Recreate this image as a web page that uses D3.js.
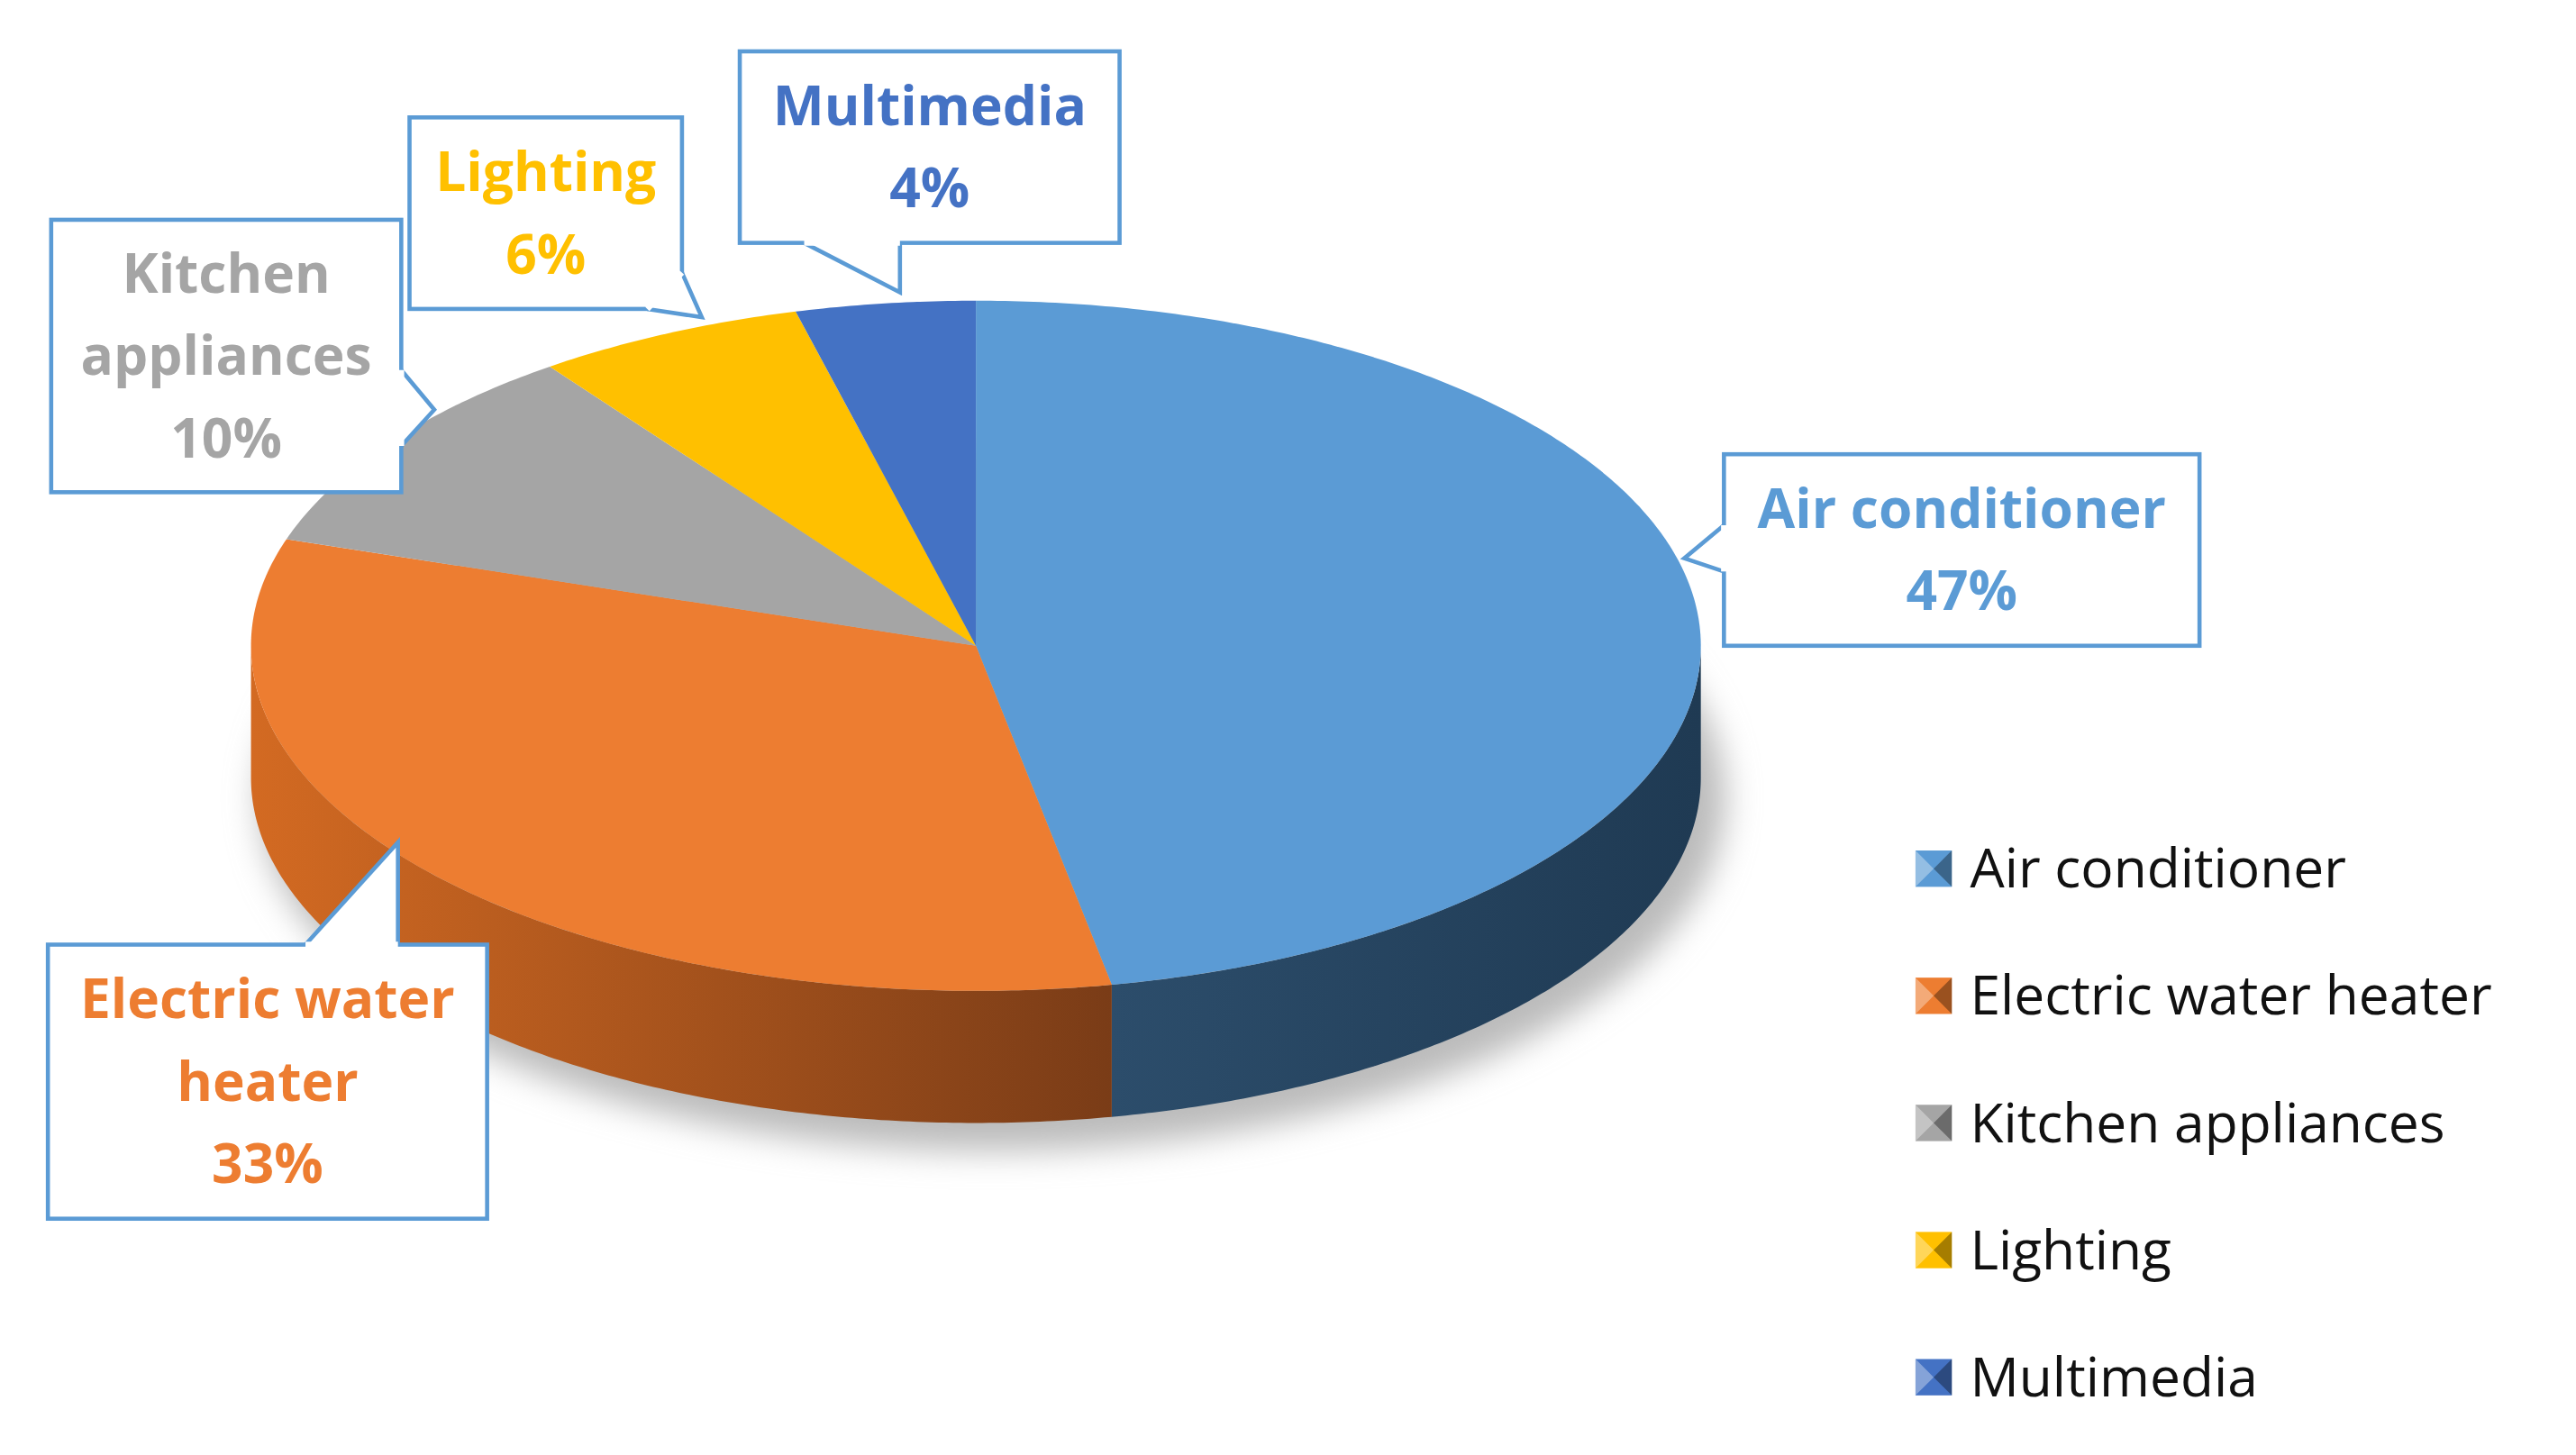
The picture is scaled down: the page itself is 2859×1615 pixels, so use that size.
<!DOCTYPE html>
<html><head><meta charset="utf-8">
<script src="https://cdnjs.cloudflare.com/ajax/libs/d3/7.8.5/d3.min.js"></script>
<style>body{margin:0;background:#fff}</style>
</head><body>
<svg id="chart" width="2859" height="1615" viewBox="0 0 1560 881"></svg>
<script>
// chart data
var categories = ["Air conditioner", "Electric water heater", "Kitchen appliances", "Lighting", "Multimedia"];
var values = [47, 33, 10, 6, 4];
var colors = ["#5B9BD5", "#ED7D31", "#A5A5A5", "#FFC000", "#4472C4"];
var sideDark = ["#1f3a53", "#7a3c17", "#5a5a5a", "#8a6800", "#253f6e"];
var sideLight = ["#2c4d6b", "#d36a22", "#8a8a8a", "#c99800", "#3b5fa0"];

var svg = d3.select("#chart");
var cx = 591, cy = 391, rx = 439, ry = 209, depth = 80;

var pie = d3.pie().sort(null).value(function(d){ return d; });
var arcs = pie(values);

function pt(theta, dy) {
	return [cx + rx * Math.sin(theta), cy - ry * Math.cos(theta) + (dy || 0)];
}
function arcPoints(a, b, dy) {
	var n = Math.max(2, Math.ceil((b - a) / 0.01)), pts = [];
	for (var i = 0; i <= n; i++) pts.push(pt(a + (b - a) * i / n, dy));
	return pts;
}
var line = d3.line();
var defs = svg.append("defs");

// shadow under the pie
var f = defs.append("filter").attr("id", "blur").attr("x", "-20%").attr("y", "-20%").attr("width", "140%").attr("height", "140%");
f.append("feGaussianBlur").attr("stdDeviation", 10);
svg.append("ellipse").attr("cx", cx + 10).attr("cy", cy + depth + 12).attr("rx", rx + 5).attr("ry", ry + 5)
	.attr("fill", "#bbb").attr("filter", "url(#blur)");

// side walls (front half only)
arcs.forEach(function(d, i) {
	var a = Math.max(d.startAngle, Math.PI / 2), b = Math.min(d.endAngle, Math.PI * 1.5);
	if (b <= a) return;
	var g = defs.append("linearGradient").attr("id", "side" + i).attr("gradientUnits", "userSpaceOnUse")
		.attr("x1", pt(a)[0]).attr("x2", pt(b)[0]).attr("y1", 0).attr("y2", 0);
	g.append("stop").attr("offset", 0).attr("stop-color", pt(a)[0] > pt(b)[0] ? sideDark[i] : sideLight[i]);
	g.append("stop").attr("offset", 1).attr("stop-color", pt(a)[0] > pt(b)[0] ? sideLight[i] : sideDark[i]);
	var pts = arcPoints(a, b, 0).concat(arcPoints(a, b, depth).reverse());
	svg.append("path").attr("d", line(pts) + "Z").attr("fill", "url(#side" + i + ")");
});

// top faces
arcs.forEach(function(d, i) {
	var pts = [[cx, cy]].concat(arcPoints(d.startAngle, d.endAngle, 0));
	svg.append("path").attr("d", line(pts) + "Z").attr("fill", colors[i]);
});

// callout labels
var callouts = [
	{ box: [1044, 275, 288, 116], tail: [[1044, 318], [1020, 338], [1044, 346]], lines: ["Air conditioner", "47%"] },
	{ box: [29, 572, 266, 166], tail: [[185, 572], [241, 510], [241, 572]], lines: ["Electric water", "heater", "33%"] },
	{ box: [31, 133, 212, 165], tail: [[243, 224], [263, 248], [243, 270]], lines: ["Kitchen", "appliances", "10%"] },
	{ box: [248, 71, 165, 116], tail: [[392, 187], [425, 192], [413, 165]], lines: ["Lighting", "6%"] },
	{ box: [448, 31, 230, 116], tail: [[487, 147], [545, 177], [545, 147]], lines: ["Multimedia", "4%"] }
];
callouts.forEach(function(c, i) {
	var x = c.box[0], y = c.box[1], w = c.box[2], h = c.box[3];
	svg.append("rect").attr("x", x).attr("y", y).attr("width", w).attr("height", h)
		.attr("fill", "#fff").attr("stroke", "#5B9BD5").attr("stroke-width", 2.5);
	svg.append("path").attr("d", line(c.tail)).attr("fill", "#fff").attr("stroke", "#5B9BD5").attr("stroke-width", 2.5);
	// cover box edge under the tail base
	svg.append("path").attr("d", "M" + c.tail[0] + "L" + c.tail[2]).attr("stroke", "#fff").attr("stroke-width", 3.5);
	var lh = 50, y0 = y + h / 2 - (c.lines.length - 1) * lh / 2;
	c.lines.forEach(function(t, k) {
		svg.append("text").attr("x", x + w / 2).attr("y", y0 + k * lh).attr("dy", "0.35em")
			.attr("text-anchor", "middle").attr("font-family", "Open Sans, sans-serif")
			.attr("font-weight", "bold").attr("font-size", 33).attr("fill", colors[i]).text(t);
	});
});

// legend
var legendY = d3.scalePoint().domain(categories).range([526, 834]);
categories.forEach(function(c, i) {
	var y = legendY(c), s = 22, x = 1160;
	var g = svg.append("g").attr("transform", "translate(" + x + "," + (y - s / 2) + ")");
	g.append("rect").attr("width", s).attr("height", s).attr("fill", colors[i]);
	g.append("path").attr("d", "M0,0L" + s / 2 + "," + s / 2 + "L0," + s + "Z").attr("fill", "#fff").attr("opacity", 0.35);
	g.append("path").attr("d", "M" + s + ",0L" + s / 2 + "," + s / 2 + "L" + s + "," + s + "Z").attr("fill", "#000").attr("opacity", 0.35);
	svg.append("text").attr("x", 1193).attr("y", y).attr("dy", "0.35em")
		.attr("font-family", "Open Sans, sans-serif").attr("font-size", 33).attr("fill", "#111").text(c);
});
</script>
</body></html>
